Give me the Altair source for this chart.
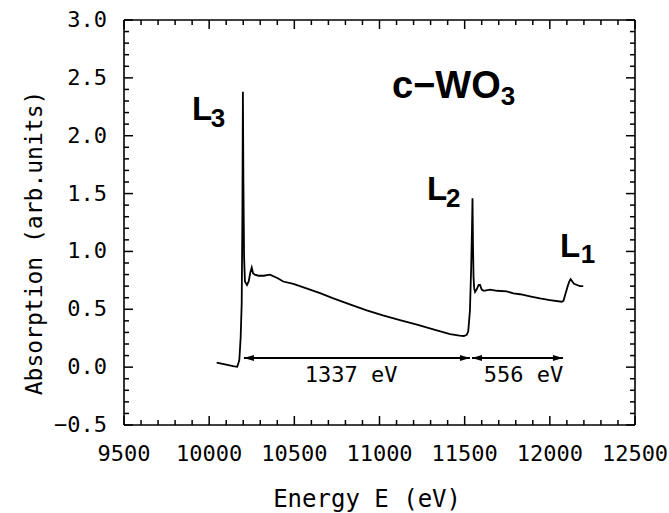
import altair as alt
import pandas as pd

# ---- data ----
energy = [10044, 10100, 10140, 10165, 10177, 10185, 10191, 10195, 10198, 10201,
          10205, 10210, 10222, 10232, 10242, 10250, 10258, 10268, 10290, 10320,
          10357, 10400, 10435, 10494, 10533, 10592, 10651, 10729, 10830, 10925,
          11020, 11120, 11220, 11316, 11414, 11470, 11495, 11512, 11521, 11531,
          11538, 11543, 11546, 11549, 11552, 11556, 11561, 11570, 11582, 11590,
          11600, 11612, 11649, 11690, 11747, 11786, 11825, 11890, 11942, 12000,
          12069, 12080, 12089, 12105, 12114, 12122, 12132, 12142, 12160, 12177,
          12196]
absorption = [0.040, 0.022, 0.008, 0.003, 0.06, 0.26, 0.55, 1.30, 2.38, 1.60,
              0.95, 0.74, 0.71, 0.74, 0.82, 0.86, 0.81, 0.80, 0.79, 0.79,
              0.80, 0.77, 0.74, 0.72, 0.70, 0.67, 0.64, 0.594, 0.54, 0.49,
              0.447, 0.407, 0.367, 0.327, 0.286, 0.272, 0.269, 0.28, 0.31, 0.49,
              0.85, 1.20, 1.46, 1.05, 0.78, 0.68, 0.65, 0.67, 0.71, 0.71,
              0.67, 0.66, 0.67, 0.66, 0.655, 0.638, 0.63, 0.61, 0.594, 0.58,
              0.565, 0.573, 0.62, 0.70, 0.74, 0.76, 0.74, 0.72, 0.71, 0.70,
              0.70]

x_domain = [9500, 12500]
y_domain = [-0.5, 3.0]
x_major = [9500, 10000, 10500, 11000, 11500, 12000, 12500]
x_labels = ["9500", "10000", "10500", "11000", "11500", "12000", "12500"]
x_minor = [v for v in range(9500, 12501, 100) if v % 500 != 0]
y_major = [-0.5, 0.0, 0.5, 1.0, 1.5, 2.0, 2.5, 3.0]
y_labels = ["\u22120.5", "0.0", "0.5", "1.0", "1.5", "2.0", "2.5", "3.0"]
y_minor = [round(-0.5 + 0.1 * i, 1) for i in range(36) if i % 5 != 0]
x_title = ["Energy E (eV)"]
x_title_at = [10927]
y_title = ["Absorption (arb.units)"]
y_title_at = [1.073]

# edge labels (big letter + subscript)
edge_main = ["L", "L", "L", "c\u2212WO"]
edge_main_x = [9899, 11279, 12060, 11073]
edge_main_y = [2.136, 1.444, 0.952, 2.326]
edge_main_size = [33, 33, 33, 38]
edge_sub = ["3", "2", "1", "3"]
edge_sub_x = [10010, 11390, 12182, 11712]
edge_sub_y = [2.075, 1.384, 0.90, 2.265]

# separation arrows
arrow_start = [10204, 11543]
arrow_end = [11531, 12077]
arrow_y = [0.078, 0.078]
arrow_text = ["1337 eV", "556 eV"]
arrow_text_x = [10833, 11845]
arrow_text_y = [-0.129, -0.129]

W, H = 511, 405
MAJ, MIN = 9, 5
FONT = "DejaVu Sans Mono"
BOLD = "Liberation Sans"

XS = alt.Scale(domain=x_domain, nice=False, zero=False)
YS = alt.Scale(domain=y_domain, nice=False, zero=False)
X0, X1 = x_domain
Y0, Y1 = y_domain

curve = alt.Chart(pd.DataFrame({"E": energy, "A": absorption})).mark_line(
    color="black", strokeWidth=1.8
).encode(
    x=alt.X("E:Q", scale=XS, axis=None),
    y=alt.Y("A:Q", scale=YS, axis=None),
)


def xticks(vals, edge, length):
    d = pd.DataFrame({"px": vals, "py": [edge] * len(vals)})
    return alt.Chart(d).mark_rule(
        color="black", strokeWidth=1.5, y2Offset=length
    ).encode(
        x=alt.X("px:Q", scale=XS, axis=None),
        y=alt.Y("py:Q", scale=YS, axis=None),
        y2="py:Q",
    )


def yticks(vals, edge, length):
    d = pd.DataFrame({"qy": vals, "qx": [edge] * len(vals)})
    return alt.Chart(d).mark_rule(
        color="black", strokeWidth=1.5, x2Offset=length
    ).encode(
        y=alt.Y("qy:Q", scale=YS, axis=None),
        x=alt.X("qx:Q", scale=XS, axis=None),
        x2="qx:Q",
    )


tick_layers = [
    xticks(x_major, Y0, -MAJ), xticks(x_minor, Y0, -MIN),
    xticks(x_major, Y1, MAJ), xticks(x_minor, Y1, MIN),
    yticks(y_major, X0, MAJ), yticks(y_minor, X0, MIN),
    yticks(y_major, X1, -MAJ), yticks(y_minor, X1, -MIN),
]

frame_v = alt.Chart(pd.DataFrame({"fx": x_domain, "fy0": [Y0, Y0], "fy1": [Y1, Y1]})).mark_rule(
    color="black", strokeWidth=1.6
).encode(
    x=alt.X("fx:Q", scale=XS, axis=None),
    y=alt.Y("fy0:Q", scale=YS, axis=None), y2="fy1:Q",
)
frame_h = alt.Chart(pd.DataFrame({"gy": y_domain, "gx0": [X0, X0], "gx1": [X1, X1]})).mark_rule(
    color="black", strokeWidth=1.6
).encode(
    y=alt.Y("gy:Q", scale=YS, axis=None),
    x=alt.X("gx0:Q", scale=XS, axis=None), x2="gx1:Q",
)

# tick labels and axis titles
x_tick_labels = alt.Chart(pd.DataFrame({
    "lx": x_major, "ly": [Y0] * len(x_major), "t": x_labels
})).mark_text(
    align="center", baseline="top", font=FONT, fontSize=22, color="black", dy=19
).encode(
    x=alt.X("lx:Q", scale=XS, axis=None),
    y=alt.Y("ly:Q", scale=YS, axis=None), text="t:N"
)
y_tick_labels = alt.Chart(pd.DataFrame({
    "ky": y_major, "kx": [X0] * len(y_major), "t": y_labels
})).mark_text(
    align="right", baseline="middle", font=FONT, fontSize=22, color="black", dx=-17
).encode(
    y=alt.Y("ky:Q", scale=YS, axis=None),
    x=alt.X("kx:Q", scale=XS, axis=None), text="t:N"
)
x_title_mark = alt.Chart(pd.DataFrame({"t": x_title, "tx": x_title_at, "ty": [Y0]})).mark_text(
    align="center", baseline="alphabetic", font=FONT, fontSize=24, color="black", dy=82
).encode(
    x=alt.X("tx:Q", scale=XS, axis=None),
    y=alt.Y("ty:Q", scale=YS, axis=None), text="t:N"
)
y_title_mark = alt.Chart(pd.DataFrame({"t": y_title, "uy": y_title_at, "ux": [X0]})).mark_text(
    align="center", baseline="alphabetic", font=FONT, fontSize=23, color="black",
    angle=270, dy=-82
).encode(
    y=alt.Y("uy:Q", scale=YS, axis=None),
    x=alt.X("ux:Q", scale=XS, axis=None), text="t:N"
)

main_df = pd.DataFrame({"t": edge_main, "mx": edge_main_x, "my": edge_main_y, "s": edge_main_size})
sub_df = pd.DataFrame({"t": edge_sub, "sx": edge_sub_x, "sy": edge_sub_y})

main_text = alt.Chart(main_df).mark_text(
    align="left", baseline="alphabetic", font=BOLD, fontWeight="bold", color="black"
).encode(
    x=alt.X("mx:Q", scale=XS, axis=None),
    y=alt.Y("my:Q", scale=YS, axis=None),
    text="t:N",
    size=alt.Size("s:Q", scale=None, legend=None),
)
sub_text = alt.Chart(sub_df).mark_text(
    align="left", baseline="alphabetic", font=BOLD, fontWeight="bold",
    fontSize=26, color="black"
).encode(
    x=alt.X("sx:Q", scale=XS, axis=None),
    y=alt.Y("sy:Q", scale=YS, axis=None),
    text="t:N",
)

arr_df = pd.DataFrame({"ax": arrow_start, "ax2": arrow_end, "ay": arrow_y})
arrow_lines = alt.Chart(arr_df).mark_rule(color="black", strokeWidth=2).encode(
    x=alt.X("ax:Q", scale=XS, axis=None),
    x2="ax2:Q",
    y=alt.Y("ay:Q", scale=YS, axis=None),
)
left_heads = alt.Chart(arr_df).mark_point(
    shape="M0,0L2,-0.6L2,0.6Z", filled=True, color="black", opacity=1, size=100
).encode(
    x=alt.X("ax:Q", scale=XS, axis=None),
    y=alt.Y("ay:Q", scale=YS, axis=None),
)
right_heads = alt.Chart(arr_df).mark_point(
    shape="M0,0L-2,-0.6L-2,0.6Z", filled=True, color="black", opacity=1, size=100
).encode(
    x=alt.X("ax2:Q", scale=XS, axis=None),
    y=alt.Y("ay:Q", scale=YS, axis=None),
)
arr_txt_df = pd.DataFrame({"t": arrow_text, "tx": arrow_text_x, "ty": arrow_text_y})
arrow_labels = alt.Chart(arr_txt_df).mark_text(
    align="center", baseline="alphabetic", font=FONT, fontSize=22, color="black"
).encode(
    x=alt.X("tx:Q", scale=XS, axis=None),
    y=alt.Y("ty:Q", scale=YS, axis=None),
    text="t:N",
)

chart = alt.layer(
    curve, *tick_layers, frame_v, frame_h,
    x_tick_labels, y_tick_labels, x_title_mark, y_title_mark,
    main_text, sub_text,
    arrow_lines, left_heads, right_heads, arrow_labels
).properties(
    width=W, height=H,
    padding={"left": 124, "top": 20, "right": 34, "bottom": 88},
    autosize=alt.AutoSizeParams(type="none"),
    background="white",
).configure_view(strokeOpacity=0)

chart.save("out.html", embed_options={"renderer": "svg", "actions": False})
